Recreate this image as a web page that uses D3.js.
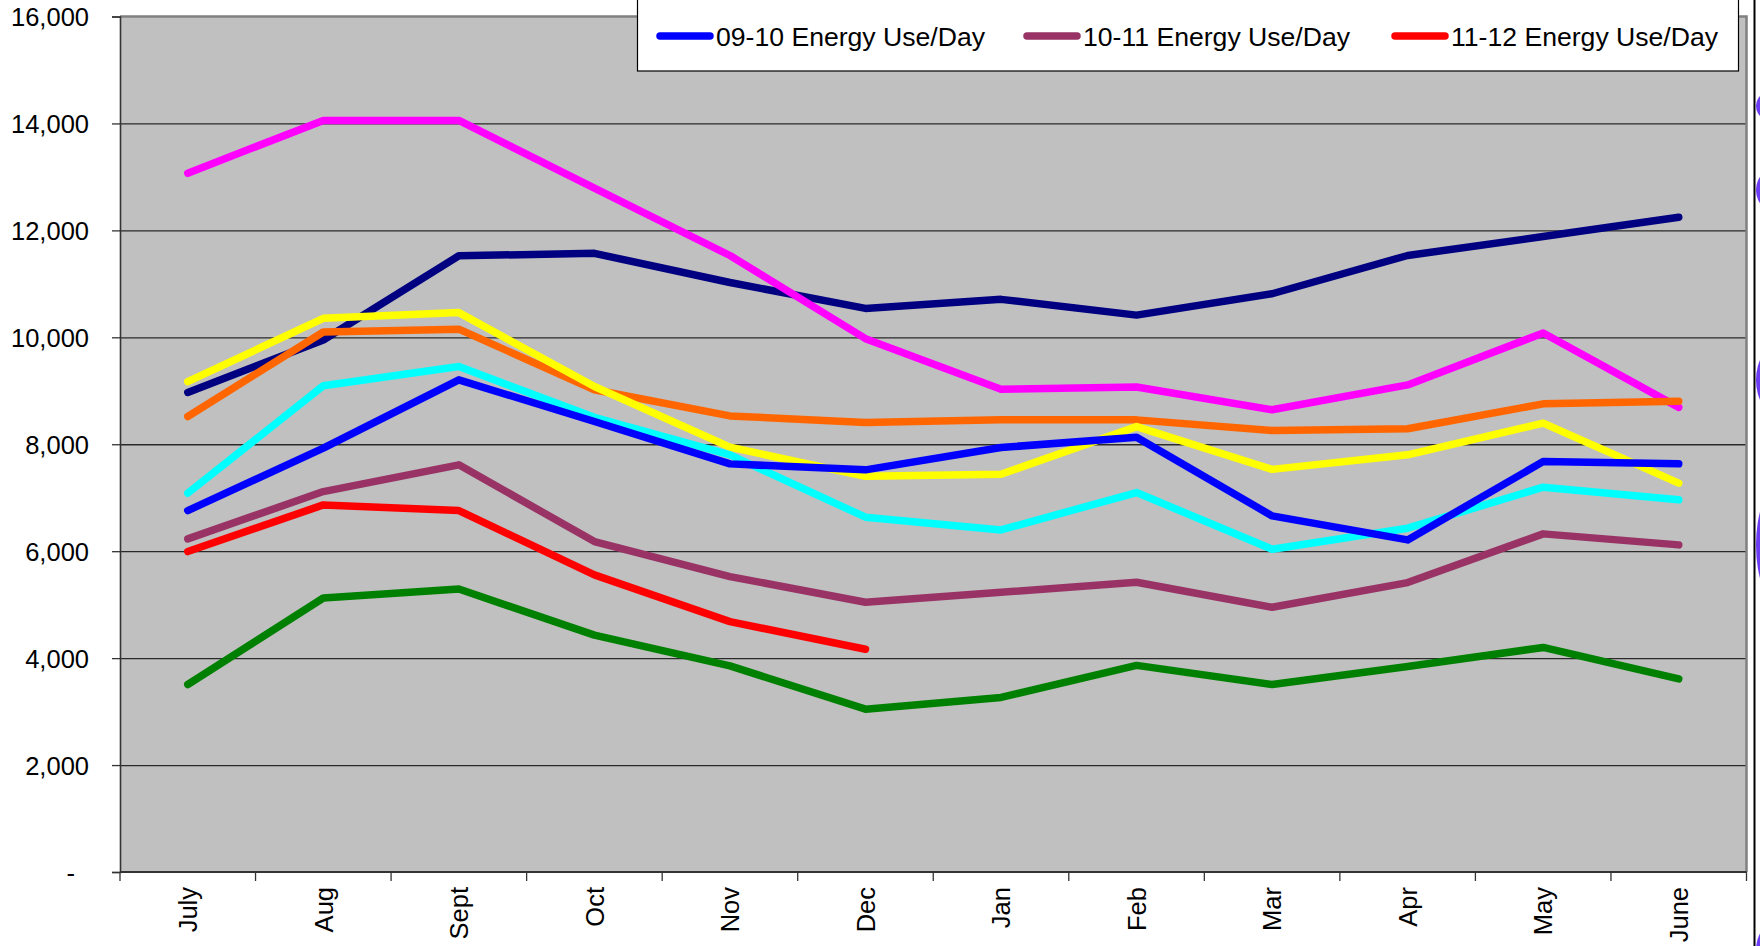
<!DOCTYPE html>
<html>
<head>
<meta charset="utf-8">
<script src="https://cdn.jsdelivr.net/npm/d3@7"></script>
<style>
  html, body { margin: 0; padding: 0; background: #ffffff; }
  svg { display: block; }
  text { font-family: "Liberation Sans", Arial, sans-serif; fill: #000; }
</style>
</head>
<body>
<svg id="chart" width="1760" height="946"></svg>
<script>
// ---------------- DATA ----------------
const months = ["July", "Aug", "Sept", "Oct", "Nov", "Dec", "Jan", "Feb", "Mar", "Apr", "May", "June"];
const yTickValues = [0, 2000, 4000, 6000, 8000, 10000, 12000, 14000, 16000];
const yTickLabels = ["-", "2,000", "4,000", "6,000", "8,000", "10,000", "12,000", "14,000", "16,000"];

const navySeries    = [8970, 9950, 11525, 11570, 11025, 10540, 10710, 10415, 10815, 11530, 11885, 12245];
const magentaSeries = [13070, 14057, 14057, 12790, 11530, 9975, 9030, 9070, 8645, 9110, 10080, 8690];
const orangeSeries  = [8520, 10100, 10153, 9020, 8530, 8405, 8456, 8456, 8257, 8290, 8756, 8805];
const yellowSeries  = [9170, 10355, 10462, 9080, 7945, 7400, 7440, 8330, 7530, 7802, 8394, 7272];
const cyanSeries    = [7085, 9093, 9454, 8505, 7802, 6636, 6398, 7097, 6037, 6430, 7197, 6960];
const greenSeries   = [3507, 5124, 5292, 4431, 3854, 3045, 3265, 3864, 3507, 3843, 4200, 3612];
const use0910       = [6760, 7926, 9205, 8425, 7633, 7521, 7939, 8133, 6660, 6211, 7677, 7633];
const use1011       = [6230, 7115, 7615, 6180, 5525, 5045, 5230, 5420, 4952, 5413, 6324, 6118];
const use1112       = [5993, 6866, 6760, 5557, 4683, 4166];

const legendLabels = ["09-10 Energy Use/Day", "10-11 Energy Use/Day", "11-12 Energy Use/Day"];

// series in drawing order (first = bottom)
const seriesList = [
  { values: navySeries,    color: "#000080" },
  { values: magentaSeries, color: "#FF00FF" },
  { values: orangeSeries,  color: "#FF6600" },
  { values: yellowSeries,  color: "#FFFF00" },
  { values: cyanSeries,    color: "#00FFFF" },
  { values: greenSeries,   color: "#008000" },
  { values: use0910,       color: "#0000FF", legend: 0 },
  { values: use1011,       color: "#993366", legend: 1 },
  { values: use1112,       color: "#FF0000", legend: 2 }
];

// ---------------- LAYOUT ----------------
const pLeft = 120, pRight = 1746.5, pTop = 16.5, pBottom = 872;
const svg = d3.select("#chart");

const x = d3.scaleBand().domain(months).range([pLeft, pRight]).paddingInner(0).paddingOuter(0);
const y = d3.scaleLinear().domain([0, 16000]).range([pBottom, pTop]);

// plot background
svg.append("rect")
  .attr("x", pLeft).attr("y", pTop)
  .attr("width", pRight - pLeft).attr("height", pBottom - pTop)
  .attr("fill", "#C0C0C0");

// gridlines
svg.append("g")
  .attr("transform", `translate(${pLeft},0)`)
  .call(d3.axisLeft(y).tickValues(yTickValues.filter(v => v > 0 && v < 16000)).tickSize(-(pRight - pLeft)).tickFormat(""))
  .call(g => g.select(".domain").remove())
  .call(g => g.selectAll("line").attr("stroke", "#2a2a2a").attr("stroke-width", 1.3));

// plot border top & right (gray)
svg.append("path")
  .attr("d", `M${pLeft},${pTop}H${pRight}V${pBottom}`)
  .attr("fill", "none").attr("stroke", "#808080").attr("stroke-width", 2.5);

// series lines
const line = d3.line()
  .x((d, i) => x(months[i]) + x.bandwidth() / 2)
  .y(d => y(d));

svg.append("g").selectAll("path")
  .data(seriesList)
  .join("path")
  .attr("d", d => line(d.values))
  .attr("fill", "none")
  .attr("stroke", d => d.color)
  .attr("stroke-width", 7.5)
  .attr("stroke-linejoin", "round")
  .attr("stroke-linecap", "round");

// y axis
const yAxis = svg.append("g")
  .attr("transform", `translate(${pLeft},0)`)
  .call(d3.axisLeft(y).tickValues(yTickValues).tickSize(8).tickPadding(23)
        .tickFormat((d, i) => yTickLabels[i]));
yAxis.select(".domain").attr("stroke", "#333").attr("stroke-width", 1.6);
yAxis.selectAll(".tick line").attr("stroke", "#333").attr("stroke-width", 1.3);
yAxis.selectAll(".tick text")
  .style("font-size", "25.5px")
  .style("font-family", "'Liberation Sans', Arial, sans-serif")
  .attr("fill", "#000")
  .attr("dy", "0.36em")
  .attr("x", (d) => d === 0 ? -45 : -31);

// x axis line
svg.append("line")
  .attr("x1", pLeft).attr("x2", pRight)
  .attr("y1", pBottom).attr("y2", pBottom)
  .attr("stroke", "#333").attr("stroke-width", 2);

// x ticks at category boundaries
const boundaries = months.map(m => x(m)).concat([x.range()[1]]);
svg.append("g").selectAll("line")
  .data(boundaries)
  .join("line")
  .attr("x1", d => d).attr("x2", d => d)
  .attr("y1", pBottom).attr("y2", pBottom + 9)
  .attr("stroke", "#333").attr("stroke-width", 1.3);

// x labels (rotated)
svg.append("g").selectAll("text")
  .data(months)
  .join("text")
  .attr("transform", d => `translate(${x(d) + x.bandwidth() / 2},${pBottom + 15}) rotate(-90)`)
  .attr("text-anchor", "end")
  .attr("dy", "0.36em")
  .style("font-size", "25.5px")
  .text(d => d);

// legend
const lg = svg.append("g");
lg.append("rect")
  .attr("x", 637.5).attr("y", -10)
  .attr("width", 1101).attr("height", 81)
  .attr("fill", "#ffffff").attr("stroke", "#000").attr("stroke-width", 1.2);

const legendItems = seriesList.filter(s => s.legend !== undefined);
const legendX = [660, 1027, 1395];
legendItems.forEach((s) => {
  const lx = legendX[s.legend];
  lg.append("line")
    .attr("x1", lx).attr("x2", lx + 50)
    .attr("y1", 36).attr("y2", 36)
    .attr("stroke", s.color).attr("stroke-width", 7.5).attr("stroke-linecap", "round");
  lg.append("text")
    .attr("x", lx + 56).attr("y", 36)
    .attr("dy", "0.36em")
    .style("font-size", "26.6px")
    .text(legendLabels[s.legend]);
});

// right edge decorations (vertical rule and cropped purple shapes)
svg.append("line")
  .attr("x1", 1754.5).attr("x2", 1754.5).attr("y1", 0).attr("y2", 946)
  .attr("stroke", "#000").attr("stroke-width", 2);
const blobs = [[106, 18], [190, 24], [380, 36], [545, 60], [950, 30]];
svg.append("g").selectAll("ellipse")
  .data(blobs)
  .join("ellipse")
  .attr("cx", 1780).attr("cy", d => d[0])
  .attr("rx", 24).attr("ry", d => d[1])
  .attr("fill", "#6B3BF5");
</script>
</body>
</html>
